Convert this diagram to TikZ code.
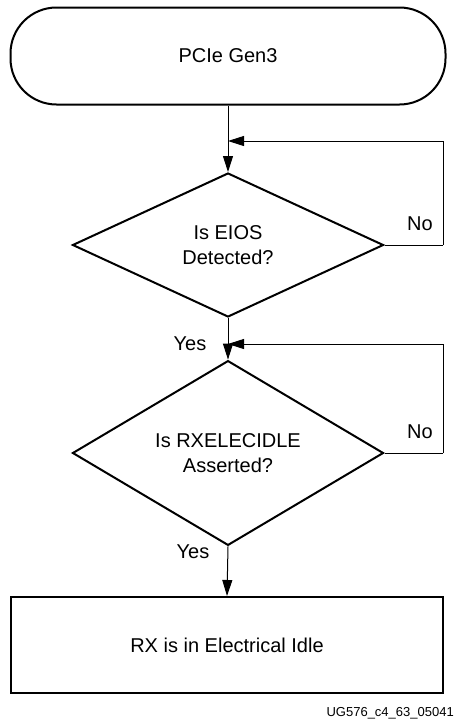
\documentclass[tikz,border=0pt]{standalone}
\usepackage{fontspec}
\setmainfont{Liberation Sans}
\usetikzlibrary{shapes.geometric,arrows.meta}
\begin{document}
\begin{tikzpicture}[x=1pt,y=-1pt,
  txt/.style={font=\fontsize{20}{25}\selectfont, align=center},
  startbox/.style={draw, line width=2pt, rounded corners=46pt, minimum width=435pt, minimum height=97pt, inner sep=0pt, txt},
  decide/.style={draw, diamond, line width=2pt, minimum width=311pt, minimum height=144pt, inner sep=0pt, txt},
  procbox/.style={draw, line width=2pt, minimum width=432pt, minimum height=96pt, inner sep=0pt, txt},
  conn/.style={line width=1pt, -{Triangle[length=16pt,width=10pt]}},
  plain/.style={line width=1pt},
  lbl/.style={font=\fontsize{20}{24}\selectfont, inner sep=0pt}
]
\useasboundingbox (0,0) rectangle (454,723);
\node[startbox] (start) at (228,56) {PCIe Gen3};
\node[decide] (d1) at (228,245) {Is EIOS\\Detected?};
\node[decide] (d2) at (228,453) {Is RXELECIDLE\\Asserted?};
\node[procbox] (stop) at (227,645) {RX is in Electrical Idle};
\coordinate (m1) at (228,141);
\coordinate (m2) at (228,344);
\coordinate (r1) at (443,245);
\coordinate (r2) at (443,453);
\draw[conn] (start.south) -- (d1.north);
\draw[conn] (d1.south) -- (d2.north);
\draw[conn] (d2.south) -- (stop.north);
\draw[plain] (d1.east) -- (r1);
\draw[conn] (r1) |- (m1);
\draw[plain] (d2.east) -- (r2);
\draw[conn] (r2) |- (m2);
\node[lbl] (no1) at (420,224) {No};
\node[lbl] (no2) at (420,432) {No};
\node[lbl] (yes1) at (190,344) {Yes};
\node[lbl] (yes2) at (193,552) {Yes};
\node[font=\fontsize{13}{15}\selectfont, anchor=east, inner sep=0pt] (fig) at (454,713) {UG576\_c4\_63\_05041};
\end{tikzpicture}
\end{document}
